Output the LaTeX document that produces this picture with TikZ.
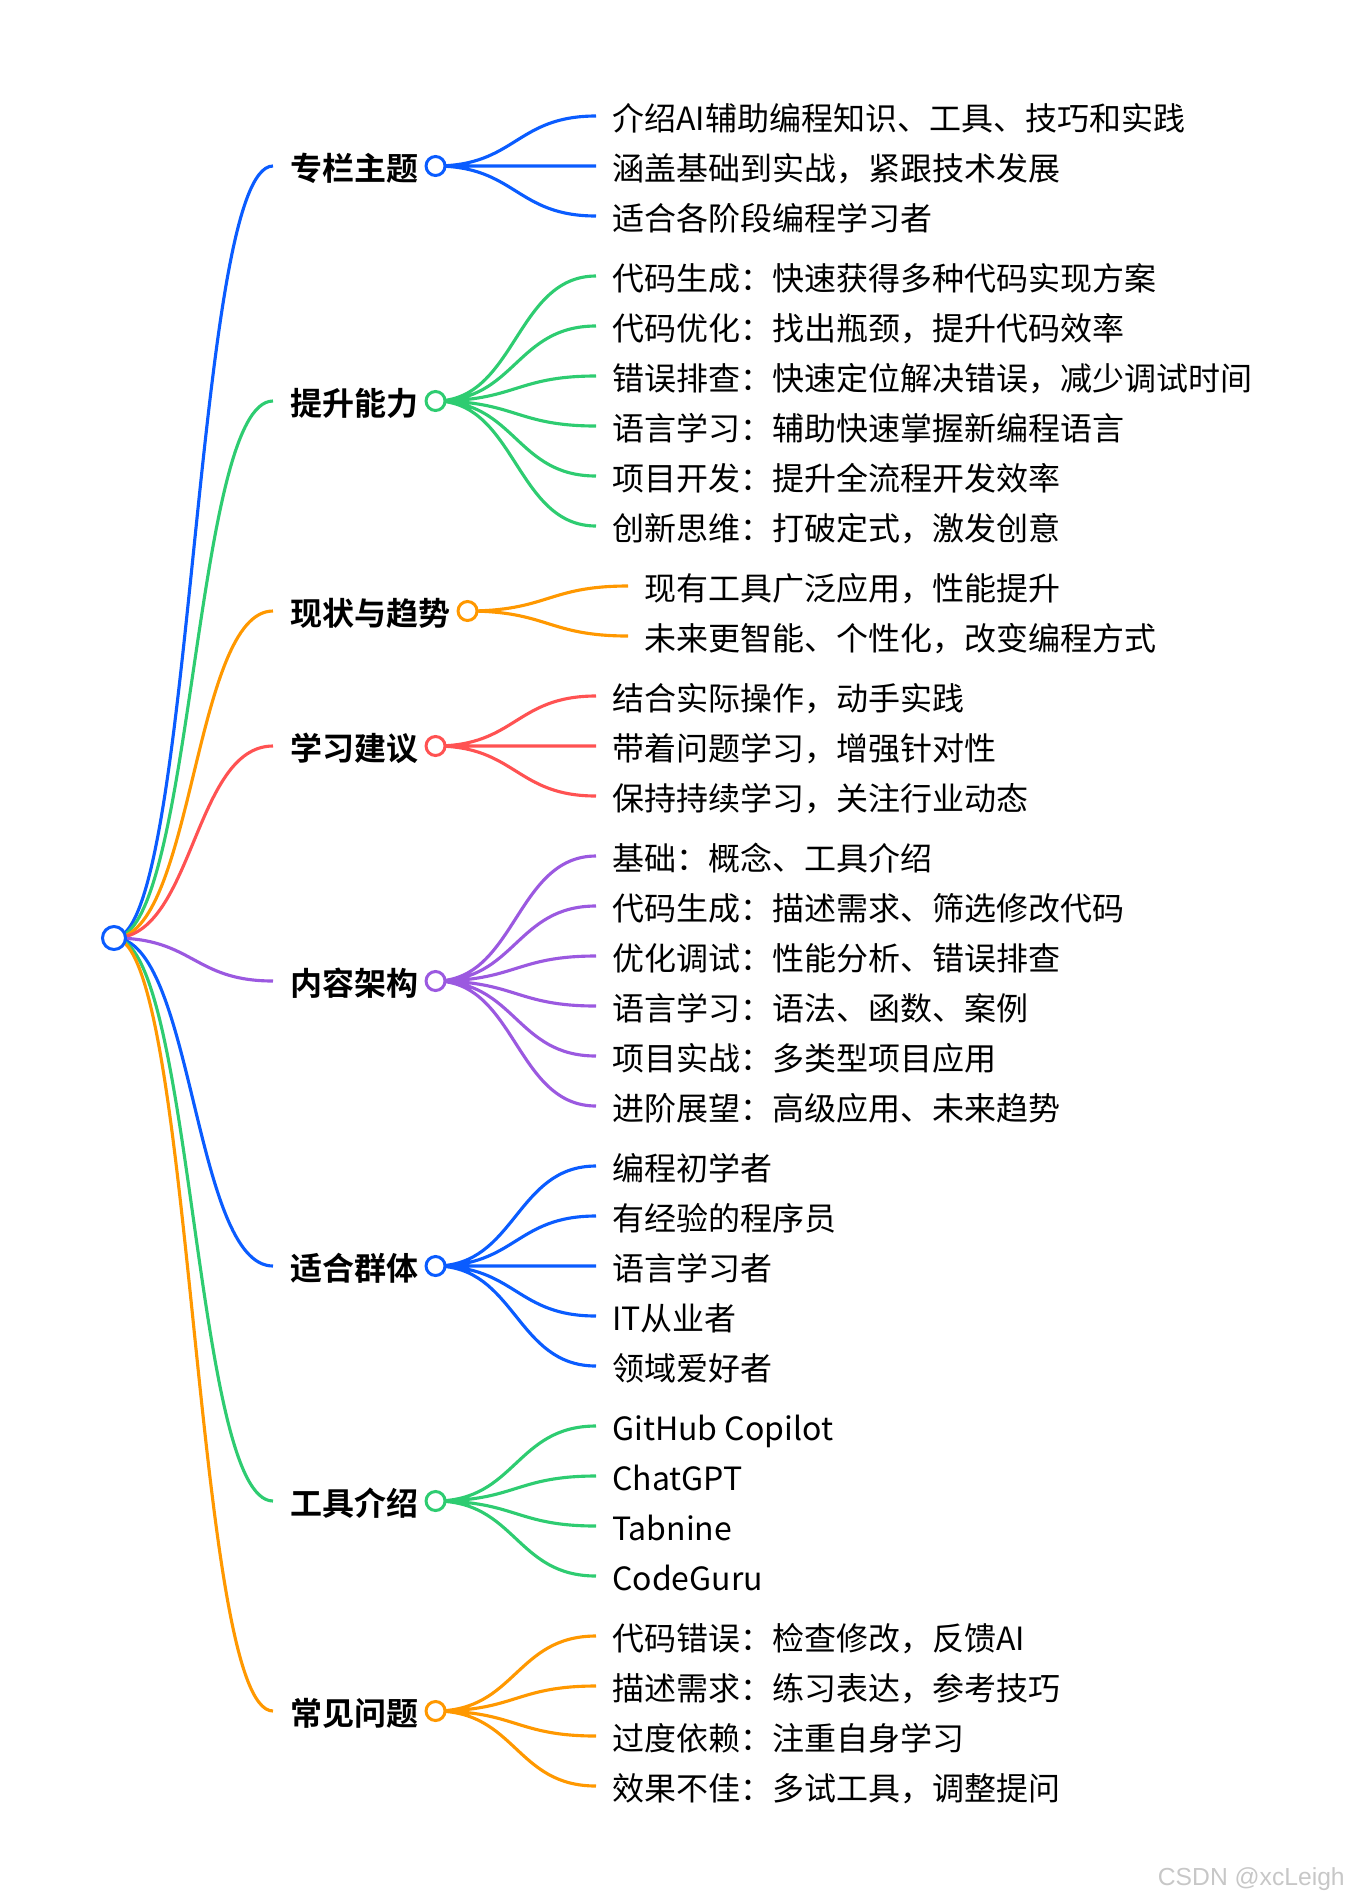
\documentclass[tikz,border=0pt]{standalone}
\usepackage{fontspec}
\setmainfont{Noto Sans CJK SC}[BoldFont={Noto Sans CJK SC Bold}]
\newfontfamily\markfont{Liberation Sans}
\usepackage{xcolor}
\definecolor{bluemap}{HTML}{0A5CFF}
\definecolor{greenmap}{HTML}{2ECC71}
\definecolor{orangemap}{HTML}{FF9800}
\definecolor{redmap}{HTML}{FF5252}
\definecolor{purplemap}{HTML}{9B59E0}
\usepackage{tikz}
\usetikzlibrary{backgrounds}
\usetikzlibrary{calc}
\usetikzlibrary{positioning}
\tikzstyle{leaf} = [anchor=west, inner xsep=12pt, inner ysep=0pt,
    text height=21.9pt, text depth=0.6pt, font=\fontsize{24pt}{28pt}\selectfont]
\tikzstyle{topic} = [leaf, inner xsep=12.75pt, font=\fontsize{24pt}{28pt}\selectfont\bfseries]
\tikzstyle{nextleaf} = [below=37.5pt of #1.west, anchor=west]
\tikzstyle{dot} = [circle, draw=#1, fill=white, line width=2.25pt, inner sep=0pt, minimum size=14.25pt]
\tikzstyle{link} = [to path={let \p1=(\tikztostart), \p2=(\tikztotarget), \n1={0.5*\x1+0.5*\x2} in
    .. controls (\n1,\y1) and (\n1,\y2) .. (\tikztotarget)}]
\tikzstyle{line} = [draw=#1, line width=2.35pt, link]

\begin{document}
\begin{tikzpicture}[x=0.75pt,y=-0.75pt]
    \useasboundingbox (0,0) rectangle (1350,1900);
    % Place nodes
    \node [dot=bluemap,minimum size=17.25pt] (root) at (114,938) {};

    \node [topic] (ta) at (273,166) {专栏主题};
    \node [dot=bluemap] (da) at (ta.east) {};
    \node [leaf] (a1) at (596,116) {介绍AI辅助编程知识、工具、技巧和实践};
    \node [leaf,nextleaf=a1] (a2) {涵盖基础到实战，紧跟技术发展};
    \node [leaf,nextleaf=a2] (a3) {适合各阶段编程学习者};

    \node [topic] (tb) at (273,401) {提升能力};
    \node [dot=greenmap] (db) at (tb.east) {};
    \node [leaf] (b1) at (596,276) {代码生成：快速获得多种代码实现方案};
    \node [leaf,nextleaf=b1] (b2) {代码优化：找出瓶颈，提升代码效率};
    \node [leaf,nextleaf=b2] (b3) {错误排查：快速定位解决错误，减少调试时间};
    \node [leaf,nextleaf=b3] (b4) {语言学习：辅助快速掌握新编程语言};
    \node [leaf,nextleaf=b4] (b5) {项目开发：提升全流程开发效率};
    \node [leaf,nextleaf=b5] (b6) {创新思维：打破定式，激发创意};

    \node [topic] (tc) at (273,611) {现状与趋势};
    \node [dot=orangemap] (dc) at (tc.east) {};
    \node [leaf] (c1) at (628,586) {现有工具广泛应用，性能提升};
    \node [leaf,nextleaf=c1] (c2) {未来更智能、个性化，改变编程方式};

    \node [topic] (td) at (273,746) {学习建议};
    \node [dot=redmap] (dd) at (td.east) {};
    \node [leaf] (d1) at (596,696) {结合实际操作，动手实践};
    \node [leaf,nextleaf=d1] (d2) {带着问题学习，增强针对性};
    \node [leaf,nextleaf=d2] (d3) {保持持续学习，关注行业动态};

    \node [topic] (te) at (273,981) {内容架构};
    \node [dot=purplemap] (de) at (te.east) {};
    \node [leaf] (e1) at (596,856) {基础：概念、工具介绍};
    \node [leaf,nextleaf=e1] (e2) {代码生成：描述需求、筛选修改代码};
    \node [leaf,nextleaf=e2] (e3) {优化调试：性能分析、错误排查};
    \node [leaf,nextleaf=e3] (e4) {语言学习：语法、函数、案例};
    \node [leaf,nextleaf=e4] (e5) {项目实战：多类型项目应用};
    \node [leaf,nextleaf=e5] (e6) {进阶展望：高级应用、未来趋势};

    \node [topic] (tf) at (273,1266) {适合群体};
    \node [dot=bluemap] (df) at (tf.east) {};
    \node [leaf] (f1) at (596,1166) {编程初学者};
    \node [leaf,nextleaf=f1] (f2) {有经验的程序员};
    \node [leaf,nextleaf=f2] (f3) {语言学习者};
    \node [leaf,nextleaf=f3] (f4) {IT从业者};
    \node [leaf,nextleaf=f4] (f5) {领域爱好者};

    \node [topic] (tg) at (273,1501) {工具介绍};
    \node [dot=greenmap] (dg) at (tg.east) {};
    \node [leaf] (g1) at (596,1426) {GitHub Copilot};
    \node [leaf,nextleaf=g1] (g2) {ChatGPT};
    \node [leaf,nextleaf=g2] (g3) {Tabnine};
    \node [leaf,nextleaf=g3] (g4) {CodeGuru};

    \node [topic] (th) at (273,1711) {常见问题};
    \node [dot=orangemap] (dh) at (th.east) {};
    \node [leaf] (h1) at (596,1636) {代码错误：检查修改，反馈AI};
    \node [leaf,nextleaf=h1] (h2) {描述需求：练习表达，参考技巧};
    \node [leaf,nextleaf=h2] (h3) {过度依赖：注重自身学习};
    \node [leaf,nextleaf=h3] (h4) {效果不佳：多试工具，调整提问};

    \node [anchor=east,inner sep=0pt,text=black!22,font=\fontsize{18.5pt}{20pt}\markfont] (mark) at (1345,1879) {CSDN @xcLeigh};

    % Draw edges
    \begin{scope}[on background layer]
    \path [line=bluemap] (root.center) to (ta.west);
    \path [line=greenmap] (root.center) to (tb.west);
    \path [line=orangemap] (root.center) to (tc.west);
    \path [line=redmap] (root.center) to (td.west);
    \path [line=purplemap] (root.center) to (te.west);
    \path [line=bluemap] (root.center) to (tf.west);
    \path [line=greenmap] (root.center) to (tg.west);
    \path [line=orangemap] (root.center) to (th.west);

    \path [line=bluemap] (da.center) to (a1.west) (da.center) to (a2.west) (da.center) to (a3.west);
    \path [line=greenmap] (db.center) to (b1.west) (db.center) to (b2.west) (db.center) to (b3.west)
        (db.center) to (b4.west) (db.center) to (b5.west) (db.center) to (b6.west);
    \path [line=orangemap] (dc.center) to (c1.west) (dc.center) to (c2.west);
    \path [line=redmap] (dd.center) to (d1.west) (dd.center) to (d2.west) (dd.center) to (d3.west);
    \path [line=purplemap] (de.center) to (e1.west) (de.center) to (e2.west) (de.center) to (e3.west)
        (de.center) to (e4.west) (de.center) to (e5.west) (de.center) to (e6.west);
    \path [line=bluemap] (df.center) to (f1.west) (df.center) to (f2.west) (df.center) to (f3.west)
        (df.center) to (f4.west) (df.center) to (f5.west);
    \path [line=greenmap] (dg.center) to (g1.west) (dg.center) to (g2.west) (dg.center) to (g3.west)
        (dg.center) to (g4.west);
    \path [line=orangemap] (dh.center) to (h1.west) (dh.center) to (h2.west) (dh.center) to (h3.west)
        (dh.center) to (h4.west);
    \end{scope}
\end{tikzpicture}
\end{document}
